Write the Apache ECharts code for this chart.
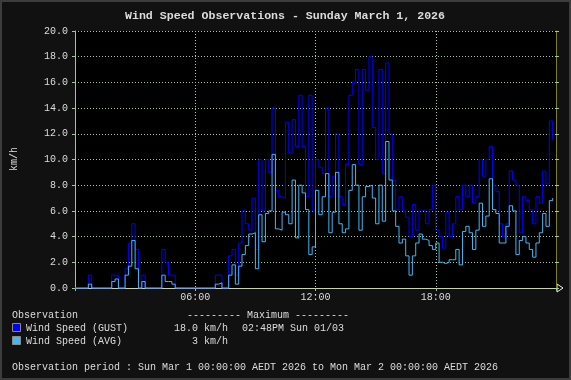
<!DOCTYPE html>
<html><head><meta charset="utf-8">
<script src="https://cdn.jsdelivr.net/npm/echarts@6/dist/echarts.min.js"></script>
<style>html,body{margin:0;padding:0;background:#111;}#c{width:571px;height:380px;}</style>
</head><body><div id="c"></div>
<script>
const chartTitle = 'Wind Speed Observations - Sunday March 1, 2026';
const yAxisName = 'km/h';
const stepMinutes = 10;
const xTickLabels = {360: '06:00', 720: '12:00', 1080: '18:00'};
const seriesNames = ['Wind Speed (GUST)', 'Wind Speed (AVG)'];
const seriesColors = ['#0000ff', '#3fb8f4'];
const maxTexts = ['18.0 km/h', '3 km/h'];
const maxWhen = '02:48PM Sun 01/03';
const periodText = 'Observation period : Sun Mar 1 00:00:00 AEDT 2026 to Mon Mar 2 00:00:00 AEDT 2026';

// 10-minute values, one row per hour
const gust = [
  0,0,0,0,1.0,0,
  0,0,0,0,0,1.0,
  1.0,0,0,1.5,3.5,5.0,
  3.0,0,1.0,0,0,0,
  0,0,3.0,2.0,1.0,1.0,
  0,0,0,0,0,0,
  0,0,0,0,0,0,
  1.0,1.0,0,0,2.5,3.0,
  1.0,3.5,6.0,5.0,4.5,7.0,
  3.0,10.0,6.0,10.0,9.0,14.0,
  7.6,7.1,7.0,12.9,10.5,13.1,
  11.0,15.0,11.0,7.1,15.0,6.0,
  10.0,9.4,8.9,14.0,7.1,8.7,
  12.0,7.1,6.5,9.6,15.0,16.0,
  17.0,9.6,17.0,15.4,18.0,12.5,
  10.0,17.0,8.9,17.5,12.0,8.4,
  6.1,7.1,6.0,5.5,4.0,6.5,
  4.5,6.0,6.1,5.0,6.1,8.0,
  4.5,4.0,3.1,5.9,4.0,5.0,
  7.1,6.1,8.0,7.1,8.0,6.6,
  7.1,10.0,8.7,10.0,11.0,8.0,
  7.5,5.0,4.0,5.0,9.1,8.4,
  8.0,4.3,7.1,6.8,6.1,5.0,
  7.1,6.6,9.1,8.1,13.0,11.5
];
const avg = [
  0,0,0,0,0.3,0,
  0,0,0,0,0,0.5,
  0.7,0,0,1.0,1.7,3.7,
  1.5,0,0.5,0,0,0,
  0,0,1.0,0.5,0.5,0.3,
  0,0,0,0,0,0,
  0,0,0,0,0,0,
  0.3,0.4,0,0,1.0,1.8,
  0.3,1.7,2.6,3.3,4.2,4.3,
  1.5,5.7,3.6,5.8,6.0,10.4,
  4.6,4.5,5.9,5.7,5.0,8.4,
  3.9,8.0,7.4,6.1,2.6,3.2,
  7.6,5.7,7.1,8.9,4.3,5.9,
  9.0,5.0,4.3,4.6,7.6,9.6,
  8.0,4.5,7.1,7.9,8.0,7.0,
  5.0,8.0,5.2,11.4,8.4,6.0,
  4.8,3.5,3.8,2.5,1.0,2.5,
  3.5,4.2,3.8,3.7,3.3,3.0,
  3.5,2.0,1.9,2.0,2.2,2.2,
  3.0,1.8,4.4,4.8,4.3,3.0,
  4.5,6.6,4.8,5.6,8.5,6.1,
  5.8,3.5,3.5,4.8,6.4,6.0,
  2.6,3.7,4.0,3.5,3.0,2.4,
  3.5,4.3,5.8,4.8,6.8,7.0
];

const FONT = 'Liberation Mono';
const TXT = '#dcdcdc';
const GRIDC = '#a3c79a';
const chart = echarts.init(document.getElementById('c'), null, {renderer: 'canvas'});
const toPairs = arr => arr.map((v, i) => [i * stepMinutes, v]);

function txt(x, y, s, extra) {
  return Object.assign({type: 'text', x: x, y: y, style: Object.assign({text: s, fill: TXT, font: '10px "' + FONT + '"', textVerticalAlign: 'middle'}, extra || {})});
}

chart.setOption({
  backgroundColor: '#111111',
  animation: false,
  grid: {left: 75, right: 15, top: 31, bottom: 92, show: true, backgroundColor: '#000000', borderWidth: 0},
  xAxis: {
    type: 'value', min: 0, max: 1440, interval: 360,
    axisLine: {show: true, lineStyle: {color: '#c8d0b8', width: 1}},
    axisTick: {show: true, length: 3, lineStyle: {color: GRIDC}},
    axisLabel: {color: TXT, fontFamily: FONT, fontSize: 10, margin: 4,
      formatter: v => xTickLabels[v] || ''},
    splitLine: {show: true, lineStyle: {color: GRIDC, type: [1, 2], width: 1}}
  },
  yAxis: [{
    type: 'value', min: 0, max: 20, interval: 2,
    axisLine: {show: true, lineStyle: {color: '#a8c878', width: 1}},
    axisTick: {show: true, length: 3, lineStyle: {color: GRIDC}},
    axisLabel: {color: TXT, fontFamily: FONT, fontSize: 10, margin: 7, formatter: v => v.toFixed(1)},
    splitLine: {show: true, lineStyle: {color: GRIDC, type: [1, 2], width: 1}}
  }, {
    type: 'value', min: 0, max: 20, interval: 2, position: 'right',
    axisLine: {show: true, lineStyle: {color: '#7d7d2c', width: 1}},
    axisTick: {show: true, length: 3, lineStyle: {color: GRIDC}},
    axisLabel: {show: false}, splitLine: {show: false}
  }],
  series: [{
    name: seriesNames[0], type: 'line', step: 'end', data: toPairs(gust), showSymbol: false,
    lineStyle: {color: seriesColors[0], width: 1}, z: 2
  }, {
    name: seriesNames[1], type: 'line', step: 'end', data: toPairs(avg), showSymbol: false,
    lineStyle: {color: seriesColors[1], width: 1}, z: 3
  }],
  graphic: [
    {type: 'rect', shape: {x: 1, y: 1, width: 569, height: 378}, style: {fill: 'none', stroke: '#3c3c3c', lineWidth: 2}, silent: true},
    txt(285, 16, chartTitle, {textAlign: 'center', font: 'bold 11.6px "' + FONT + '"', fill: '#dcdcdc'}),
    {type: 'text', x: 14, y: 159, rotation: Math.PI / 2, style: {text: yAxisName, fill: TXT, font: '10px "' + FONT + '"', textAlign: 'center', textVerticalAlign: 'middle'}},
    {type: 'polygon', shape: {points: [[557, 284], [563, 288], [557, 292]]}, style: {fill: '#111', stroke: '#eeeeee', lineWidth: 1}},
    txt(12, 315, 'Observation'),
    txt(187, 315, '--------- Maximum ---------'),
    {type: 'rect', shape: {x: 12.5, y: 323.5, width: 8, height: 8}, style: {fill: seriesColors[0], stroke: '#8a8a8a', lineWidth: 1}},
    {type: 'rect', shape: {x: 12.5, y: 336.5, width: 8, height: 8}, style: {fill: seriesColors[1], stroke: '#8a8a8a', lineWidth: 1}},
    txt(26, 328, seriesNames[0]),
    txt(26, 341, seriesNames[1]),
    txt(228, 328, maxTexts[0], {textAlign: 'right'}),
    txt(228, 341, maxTexts[1], {textAlign: 'right'}),
    txt(242, 328, maxWhen),
    txt(12, 367, periodText)
  ]
});
</script></body></html>
